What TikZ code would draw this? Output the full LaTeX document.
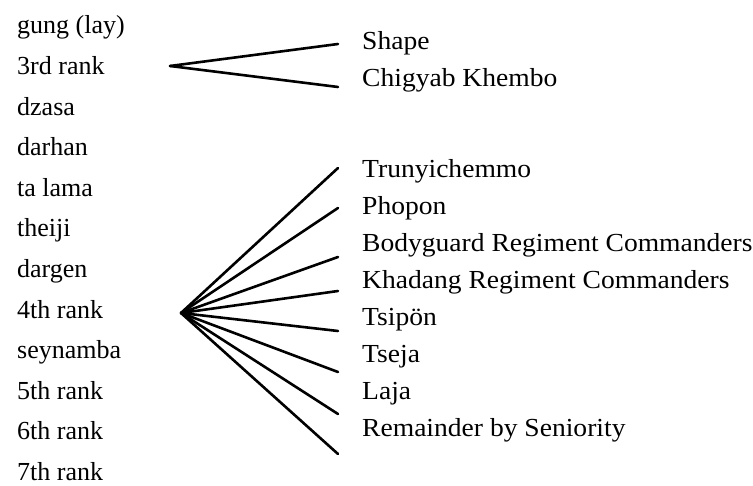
\documentclass[tikz,border=0pt]{standalone}
\usepackage{fontspec}
\setmainfont{Liberation Serif}
\newfontfamily\rfont[FakeStretch=1.06]{Liberation Serif}
\begin{document}
\begin{tikzpicture}[x=1pt,y=-1pt,
  lbl/.style={anchor=base west,inner sep=0pt,font=\fontsize{26}{30}\selectfont},
  rlbl/.style={anchor=base west,inner sep=0pt,font=\rfont\fontsize{26}{30}\selectfont},
  fan/.style={line width=2.6pt,line cap=round}]
\useasboundingbox (0,0) rectangle (753,486);
% left column
\foreach \t [count=\i from 0] in {gung (lay),3rd rank,dzasa,darhan,ta lama,theiji,dargen,4th rank,seynamba,5th rank,6th rank,7th rank}
  \node[lbl] (l\i) at (17,{34+40.6*\i}) {\t};
% right column
\node[rlbl] (shape) at (362,50) {Shape};
\node[rlbl] (chig) at (362,87) {Chigyab Khembo};
\foreach \t [count=\i from 0] in {Trunyichemmo,Phopon,Bodyguard Regiment Commanders,Khadang Regiment Commanders,Tsipön,Tseja,Laja,Remainder by Seniority}
  \node[rlbl] (r\i) at (362,{178+37*\i}) {\t};
% apexes
\coordinate (ua) at (170,66);
\coordinate (la) at (181,313);
\draw[fan] (ua) -- ([xshift=-24pt,yshift=6pt]shape.base west);
\draw[fan] (ua) -- ([xshift=-24pt,yshift=0pt]chig.base west);
\draw[fan] (la) -- ([xshift=-24pt,yshift=10pt]r0.base west);
\draw[fan] (la) -- ([xshift=-24pt,yshift=7pt]r1.base west);
\draw[fan] (la) -- ([xshift=-24pt,yshift=-5pt]r2.base west);
\draw[fan] (la) -- ([xshift=-24pt,yshift=-2pt]r3.base west);
\draw[fan] (la) -- ([xshift=-24pt,yshift=-5pt]r4.base west);
\draw[fan] (la) -- ([xshift=-24pt,yshift=-9pt]r5.base west);
\draw[fan] (la) -- ([xshift=-24pt,yshift=-14pt]r6.base west);
\draw[fan] (la) -- ([xshift=-24pt,yshift=-17pt]r7.base west);
\end{tikzpicture}
\end{document}
